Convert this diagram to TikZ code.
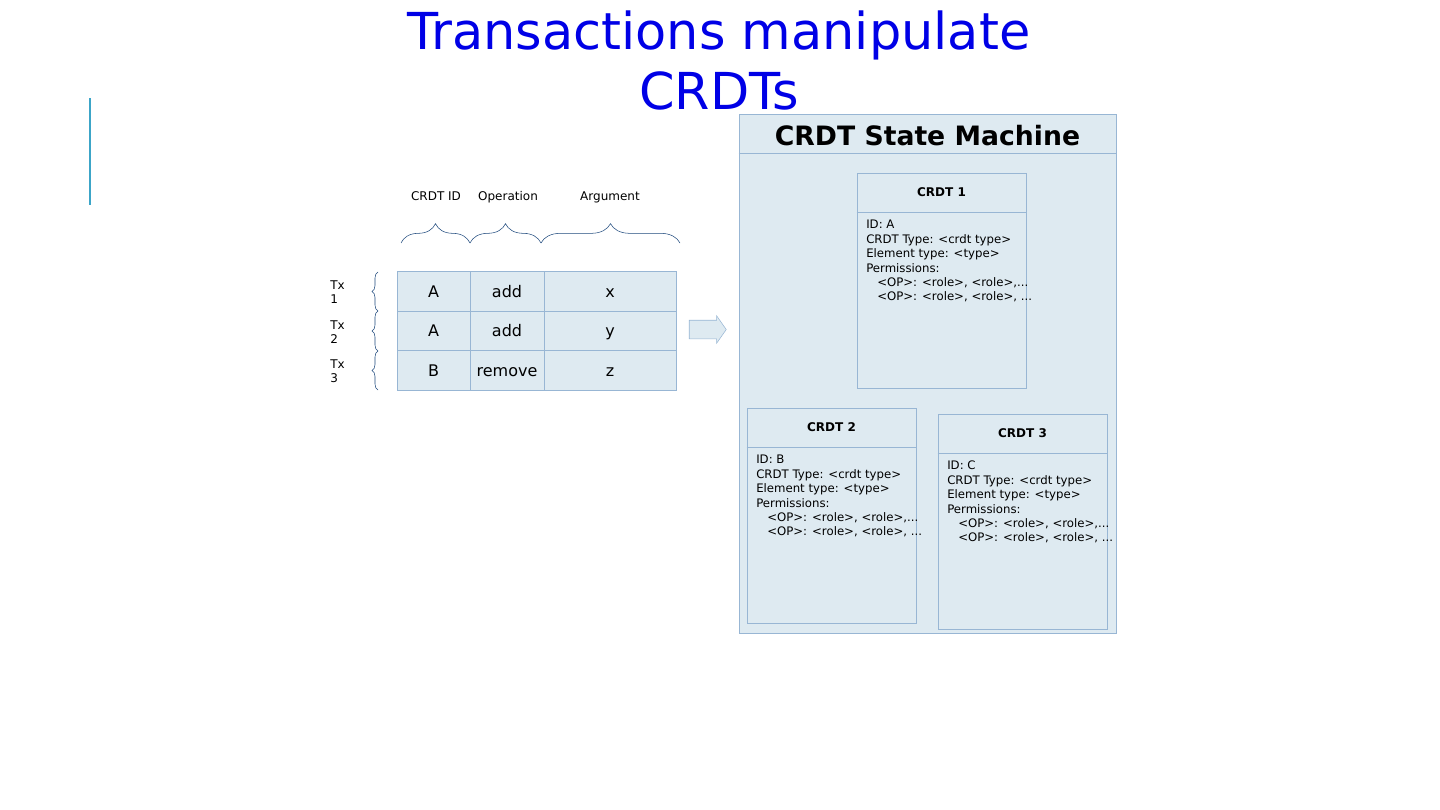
\documentclass[tikz,border=0pt]{standalone}
\usepackage{fontspec}
\setmainfont{DejaVu Sans}
\usetikzlibrary{shapes.arrows, decorations.pathreplacing, positioning}
\definecolor{titleblue}{RGB}{0,0,230}
\definecolor{cellfill}{RGB}{222,234,241}
\definecolor{cellline}{RGB}{152,182,212}
\definecolor{bracecol}{RGB}{31,73,125}
\definecolor{accentline}{RGB}{60,165,200}
\newdimen\px \px=0.75pt

\begin{document}
\begin{tikzpicture}[x=0.75pt, y=-0.75pt,
  cell/.style={draw=cellline, fill=cellfill, inner sep=0pt, minimum height=39.5*\px, text height=11pt, text depth=2.2pt, font=\fontsize{12}{14}\selectfont},
  colhead/.style={font=\fontsize{9}{11}\selectfont, anchor=base},
  txlabel/.style={font=\fontsize{9}{10.5}\selectfont, align=left, anchor=west, inner sep=0pt},
  topbrace/.style={draw=bracecol, thin, decorate, decoration={brace, amplitude=14.5pt}},
  sidebrace/.style={draw=bracecol, thin, decorate, decoration={brace, amplitude=4.5pt}},
  crdtbox/.style={draw=cellline, fill=cellfill, minimum width=169*\px, minimum height=215*\px, inner sep=0pt},
  crdttitle/.style={font=\bfseries\fontsize{9}{11}\selectfont},
  crdtbody/.style={font=\fontsize{8.8}{10.8}\selectfont, align=left, anchor=north west, inner sep=0pt}]
\useasboundingbox (0,0) rectangle (1440,810);
% Title
\node[text=titleblue, font=\fontsize{38.2}{45}\selectfont, align=center, anchor=base] (title) at (719,109) {Transactions manipulate\\CRDTs};
\draw[accentline, line width=1.5pt] (90,98) -- (90,205); % accent bar
%
% Column headers
\node[colhead] (hid) at (436,200) {CRDT ID};
\node[colhead] (hop) at (508,200) {Operation};
\node[colhead] (harg) at (610,200) {Argument};
\draw[topbrace] (401,243) -- (470,243);
\draw[topbrace] (470,243) -- (541,243);
\draw[topbrace] (541,243) -- (680,243);
%
% Table of operations
\node[cell, minimum width=73*\px] (id1) at (433.5,291.5) {A};
\node[cell, minimum width=74*\px] (op1) at (507,291.5) {add};
\node[cell, minimum width=132*\px] (arg1) at (610,291.5) {x};
\node[cell, minimum width=73*\px] (id2) at (433.5,331) {A};
\node[cell, minimum width=74*\px] (op2) at (507,331) {add};
\node[cell, minimum width=132*\px] (arg2) at (610,331) {y};
\node[cell, minimum width=73*\px] (id3) at (433.5,370.5) {B};
\node[cell, minimum width=74*\px] (op3) at (507,370.5) {remove};
\node[cell, minimum width=132*\px] (arg3) at (610,370.5) {z};
%
% Transactions
\node[txlabel] (tx1) at (330,292.5) {Tx\\1};
\node[txlabel] (tx2) at (330,332) {Tx\\2};
\node[txlabel] (tx3) at (330,371.5) {Tx\\3};
\draw[sidebrace] (378,311) -- (378,272);
\draw[sidebrace] (378,351) -- (378,311);
\draw[sidebrace] (378,390) -- (378,351);
%
% Arrow
\node[single arrow, draw=cellline, fill=cellfill, minimum height=27.75pt, single arrow head extend=3.4pt, single arrow tip angle=110, inner sep=0pt] (apply) at (704.5,329.5) {\rule{0pt}{13.5pt}};
%
% State machine
\node[draw=cellline, fill=cellfill, minimum width=377*\px, minimum height=519*\px, inner sep=0pt] (sm) at (927.5,373.5) {};
\node[font=\bfseries\fontsize{20}{24}\selectfont] (smtitle) at (927.5,136) {CRDT State Machine};
\draw[cellline] (sm.west |- 0,153) -- (sm.east |- 0,153);
%
% CRDT 1
\node[crdtbox] (c1) at (941.5,280.5) {};
\draw[cellline] (c1.west |- 0,212) -- (c1.east |- 0,212);
\node[crdttitle] (c1t) at (941.5,192.5) {CRDT 1};
\node[crdtbody] (c1b) at (866,220) {ID: A\\CRDT Type: <crdt type>\\Element type: <type>\\Permissions:\\\hspace*{8.25pt}<OP>: <role>, <role>,...\\\hspace*{8.25pt}<OP>: <role>, <role>, ...};
%
% CRDT 2
\node[crdtbox] (c2) at (831.5,515.5) {};
\draw[cellline] (c2.west |- 0,447) -- (c2.east |- 0,447);
\node[crdttitle] (c2t) at (831.5,427.5) {CRDT 2};
\node[crdtbody] (c2b) at (756,455) {ID: B\\CRDT Type: <crdt type>\\Element type: <type>\\Permissions:\\\hspace*{8.25pt}<OP>: <role>, <role>,...\\\hspace*{8.25pt}<OP>: <role>, <role>, ...};
%
% CRDT 3
\node[crdtbox] (c3) at (1022.5,521.5) {};
\draw[cellline] (c3.west |- 0,453) -- (c3.east |- 0,453);
\node[crdttitle] (c3t) at (1022.5,433.5) {CRDT 3};
\node[crdtbody] (c3b) at (947,461) {ID: C\\CRDT Type: <crdt type>\\Element type: <type>\\Permissions:\\\hspace*{8.25pt}<OP>: <role>, <role>,...\\\hspace*{8.25pt}<OP>: <role>, <role>, ...};
\end{tikzpicture}
\end{document}
